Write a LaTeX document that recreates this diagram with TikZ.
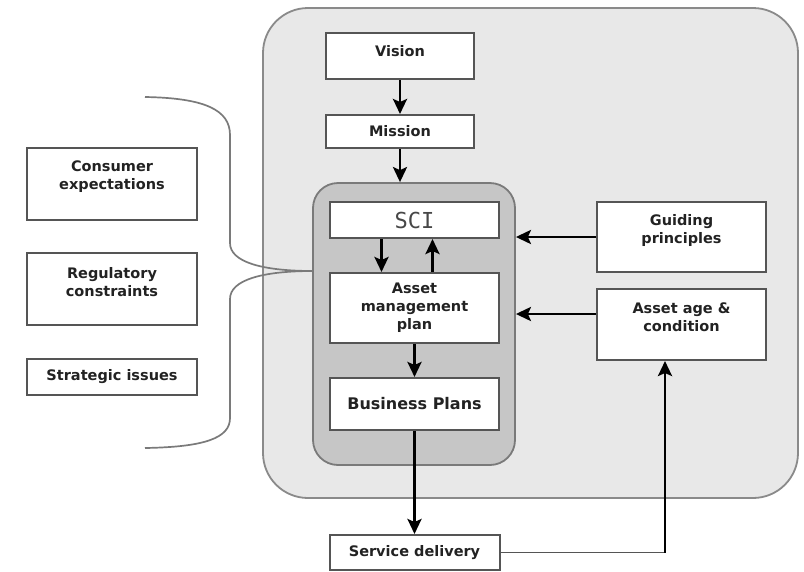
\documentclass[tikz,border=0pt]{standalone}
\usepackage{fontspec}
\setmainfont{DejaVu Sans}
\newfontfamily\monofnt{DejaVu Sans Mono}
\usetikzlibrary{arrows.meta}
\definecolor{outerfill}{HTML}{E8E8E8}
\definecolor{outerline}{HTML}{8A8A8A}
\definecolor{innerfill}{HTML}{C6C6C6}
\definecolor{innerline}{HTML}{7A7A7A}
\definecolor{boxline}{HTML}{555555}
\definecolor{txtcol}{HTML}{222222}
\begin{document}
\begin{tikzpicture}[x=1pt,y=-1pt,
  box/.style={draw=boxline, line width=2pt, fill=white, inner sep=0pt},
  lbl/.style={font=\bfseries\fontsize{14.5}{18}\selectfont, align=center, text=txtcol, inner sep=0pt},
  arr/.style={draw=black, line width=2.8pt, -{Stealth[length=15pt,width=14pt,inset=3pt]}},
  brace/.style={draw=innerline, line width=1.7pt},
  thinline/.style={draw=boxline, line width=1.6pt}]
\useasboundingbox (0,0) rectangle (804,571);
% outer region
\node[draw=outerline, line width=1.8pt, fill=outerfill, rounded corners=45pt,
  minimum width=535pt, minimum height=490pt, inner sep=0pt] (outer) at (530.5,253) {};
% inner region
\node[draw=innerline, line width=1.8pt, fill=innerfill, rounded corners=25pt,
  minimum width=202pt, minimum height=282pt, inner sep=0pt] (inner) at (414,324) {};
% boxes
\node[box, minimum width=148pt, minimum height=46pt] (vis) at (400,56) {};
\node[lbl] (vist) at ([yshift=5pt]vis.center) {Vision};
\node[box, minimum width=148pt, minimum height=33pt] (mis) at (400,131.5) {};
\node[lbl] (mist) at (mis.center) {Mission};
\node[box, minimum width=169pt, minimum height=36pt] (sci) at (414.5,220) {};
\node[font=\monofnt\fontsize{22}{24}\selectfont, text=black!72, inner sep=0pt] (scit) at (sci.center) {SCI};
\node[box, minimum width=169pt, minimum height=70pt] (amp) at (414.5,308) {};
\node[lbl] (ampt) at (amp.center) {Asset\\management\\plan};
\node[box, minimum width=169pt, minimum height=52pt] (bp) at (414.5,404) {};
\node[lbl, font=\bfseries\fontsize{16}{19}\selectfont] (bpt) at (bp.center) {Business Plans};
\node[box, minimum width=170pt, minimum height=35pt] (sd) at (414.5,552.5) {};
\node[lbl] (sdt) at (sd.center) {Service delivery};
\node[box, minimum width=169pt, minimum height=70pt] (gp) at (681.5,237) {};
\node[lbl] (gpt) at ([yshift=7pt]gp.center) {Guiding\\principles};
\node[box, minimum width=169pt, minimum height=71pt] (aa) at (681.5,324.5) {};
\node[lbl] (aat) at ([yshift=7pt]aa.center) {Asset age \&\\condition};
\node[box, minimum width=170pt, minimum height=72pt] (ce) at (112,184) {};
\node[lbl] (cet) at ([yshift=7pt]ce.center) {Consumer\\expectations};
\node[box, minimum width=170pt, minimum height=72pt] (rc) at (112,289) {};
\node[lbl] (rct) at ([yshift=7pt]rc.center) {Regulatory\\constraints};
\node[box, minimum width=170pt, minimum height=36pt] (si) at (112,377) {};
\node[lbl] (sit) at (si.center) {Strategic issues};
% brace
\coordinate (btop) at (145,97);
\coordinate (btip) at (313,271);
\coordinate (bbot) at (145,448);
\draw[brace] (btop) .. controls (205,98) and (230,110) .. (230,135) -- (230,243)
  .. controls (230,262) and (262,271) .. (btip)
  .. controls (262,271) and (230,280) .. (230,299) -- (230,418)
  .. controls (230,438) and (205,447) .. (bbot);
% arrows
\draw[arr] (vis.south) -- (mis.north);
\draw[arr] (mis.south) -- (mis.south |- inner.north);
\draw[arr] ([xshift=-33pt]sci.south) -- ([xshift=-33pt]amp.north);
\draw[arr] ([xshift=18pt]amp.north) -- ([xshift=18pt]sci.south);
\draw[arr] (amp.south) -- (bp.north);
\draw[arr] (bp.south) -- (bp.south |- sd.north);
\draw[arr] (gp.west) -- (gp.west -| inner.east);
\draw[arr] ([yshift=10.5pt]aa.west) -- ([yshift=10.5pt]aa.west -| inner.east);
\coordinate (corner) at (665,552.5);
\draw[thinline] (sd.east) -- (corner);
\draw[arr] (corner) -- (corner |- aa.south);
\end{tikzpicture}
\end{document}
